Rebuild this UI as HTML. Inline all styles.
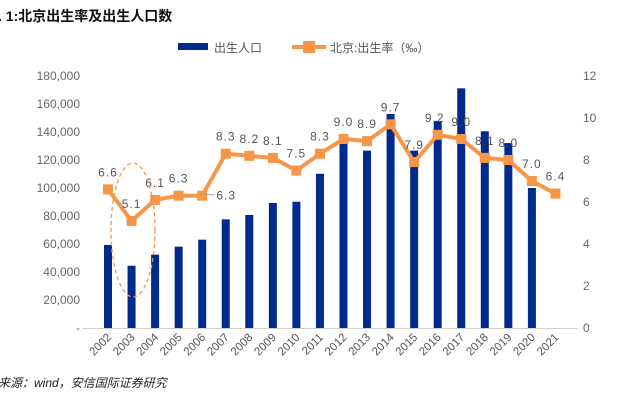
<!DOCTYPE html>
<html><head><meta charset="utf-8"><style>
body{margin:0;background:#fff;width:619px;height:404px;overflow:hidden;font-family:"Liberation Sans","Noto Sans CJK SC",sans-serif}
svg text{font-family:"Liberation Sans","Noto Sans CJK SC",sans-serif}
</style></head><body>
<svg id="c" width="619" height="404">
<text x="-2" y="21" font-size="14" font-weight="bold" fill="#111">. 1:北京出生率及出生人口数</text>
<g>
<rect x="178" y="43" width="30" height="7" fill="#002a8c"/>
<text x="214" y="52" font-size="12" fill="#555">出生人口</text>
<line x1="292" y1="47" x2="326" y2="47" stroke="#f79646" stroke-width="4"/>
<rect x="303" y="41" width="12" height="12" fill="#f79646"/>
<text x="330" y="52" font-size="12" fill="#555">北京:出生率（‰）</text>
</g>
<line x1="82" y1="328.5" x2="578" y2="328.5" stroke="#d0d0d0" stroke-width="1"/>
<g id="g"></g>
<ellipse cx="133" cy="230" rx="22" ry="67" fill="none" stroke="#f79646" stroke-width="1.3" stroke-dasharray="4,3"/>
<text x="-2" y="387" font-size="12" font-style="italic" fill="#222">来源：wind，安信国际证券研究</text>
</svg>
<script>
const years=["2002","2003","2004","2005","2006","2007","2008","2009","2010","2011","2012","2013","2014","2015","2016","2017","2018","2019","2020","2021"];
const births=[59300,44500,52400,58100,63100,77600,80700,89300,90200,110200,132600,126700,152900,126700,147900,171200,140500,132100,100000,null];
const rates=[6.6,5.1,6.1,6.3,6.3,8.3,8.2,8.1,7.5,8.3,9.0,8.9,9.7,7.9,9.2,9.0,8.1,8.0,7.0,6.4];
const leftTicks=["-","20,000","40,000","60,000","80,000","100,000","120,000","140,000","160,000","180,000"];
const rightTicks=["0","2","4","6","8","10","12"];
const NS="http://www.w3.org/2000/svg",g=document.getElementById('g');
const X=i=>108+i*23.55, YL=v=>328-v/180000*252, YR=v=>328-v/12*252;
function mk(t,a,p){const e=document.createElementNS(NS,t);for(const k in a)e.setAttribute(k,a[k]);(p||g).appendChild(e);return e;}
leftTicks.forEach((t,i)=>{const e=mk('text',{x:80,y:YL(i*20000)+4,'font-size':12,fill:'#666','text-anchor':'end'});e.textContent=t;

});
rightTicks.forEach((t,i)=>{const e=mk('text',{x:583,y:YR(i*2)+4,'font-size':12,fill:'#666'});e.textContent=t;

});
births.forEach((v,i)=>{if(v==null)return;const r=mk('rect',{x:X(i)-4,y:YL(v),width:8,height:328-YL(v),fill:'#002a8c'});

});
years.forEach((y,i)=>{const e=mk('text',{x:X(i)+4,y:338,'font-size':11.5,fill:'#555','text-anchor':'end',transform:`rotate(-45 ${X(i)+4} 338)`});e.textContent=y;

});
const pl=mk('polyline',{points:rates.map((v,i)=>X(i)+','+YR(v)).join(' '),fill:'none',stroke:'#f79646','stroke-width':4,'stroke-linejoin':'round'});


rates.forEach((v,i)=>{const m=mk('rect',{x:X(i)-5,y:YR(v)-5,width:10,height:10,fill:'#f79646'});


let lx=X(i),ly=YR(v)-13;
if(i==4){lx=X(i)+24;ly=YR(v)+4;const l=mk('line',{x1:X(i)+2,y1:YR(v)-1,x2:X(i)+12,y2:YR(v)-1,stroke:'#999'});}
if(i==14){lx=X(i)-3;}
const t=mk('text',{x:lx,y:ly,'font-size':12,fill:'#555','text-anchor':'middle','letter-spacing':'1'});t.textContent=v.toFixed(1);

});
</script>
</body></html>
